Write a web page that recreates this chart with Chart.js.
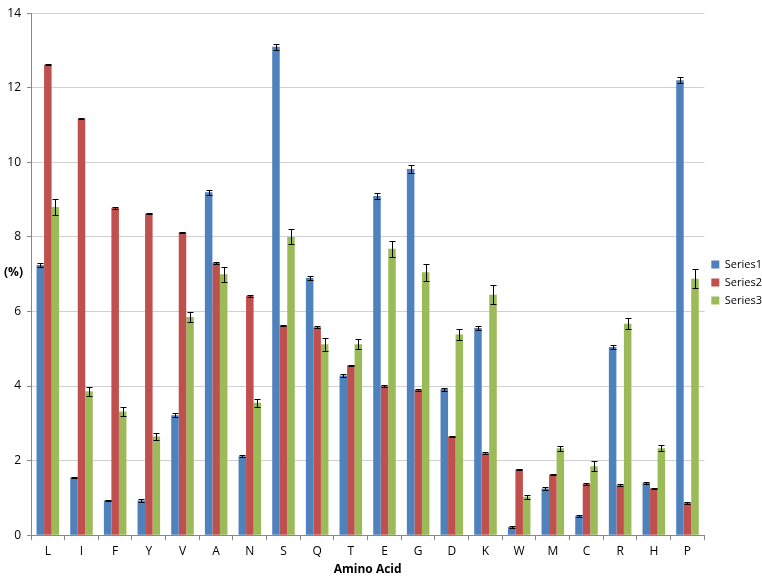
<!DOCTYPE html>
<html>
<head>
<meta charset="utf-8">
<script src="https://cdn.jsdelivr.net/npm/chart.js@4/dist/chart.umd.min.js"></script>
<style>
  html, body { margin: 0; padding: 0; background: #fff; }
  #wrap { width: 762px; height: 577px; position: relative; }
</style>
</head>
<body>
<div id="wrap"><canvas id="aaChart"></canvas></div>
<script>
// Amino acid composition (%)
const aminoAcids = ['L', 'I', 'F', 'Y', 'V', 'A', 'N', 'S', 'Q', 'T', 'E', 'G', 'D', 'K', 'W', 'M', 'C', 'R', 'H', 'P'];

const series1 = [7.25, 1.55, 0.93, 0.93, 3.22, 9.2, 2.12, 13.1, 6.9, 4.28, 9.1, 9.82, 3.92, 5.56, 0.22, 1.25, 0.52, 5.05, 1.4, 12.2];
const series2 = [12.62, 11.17, 8.78, 8.63, 8.12, 7.3, 6.42, 5.62, 5.58, 4.55, 4.0, 3.9, 2.65, 2.2, 1.76, 1.63, 1.37, 1.34, 1.25, 0.87];
const series3 = [8.8, 3.86, 3.32, 2.65, 5.85, 7.0, 3.55, 8.0, 5.12, 5.12, 7.68, 7.05, 5.38, 6.45, 1.03, 2.33, 1.85, 5.67, 2.33, 6.88];

// error bar half-widths
const err1 = [0.05, 0.02, 0.02, 0.03, 0.05, 0.07, 0.03, 0.08, 0.06, 0.05, 0.07, 0.1, 0.04, 0.05, 0.02, 0.03, 0.02, 0.05, 0.04, 0.08];
const err2 = [0.02, 0.02, 0.02, 0.02, 0.02, 0.02, 0.02, 0.02, 0.02, 0.02, 0.02, 0.02, 0.02, 0.02, 0.02, 0.02, 0.02, 0.02, 0.02, 0.02];
const err3 = [0.22, 0.12, 0.12, 0.1, 0.13, 0.2, 0.1, 0.2, 0.17, 0.13, 0.22, 0.22, 0.15, 0.25, 0.05, 0.07, 0.13, 0.15, 0.08, 0.25];

const yTicks = [0, 2, 4, 6, 8, 10, 12, 14];

// draws the error bars on top of each bar
const errorBarPlugin = {
    id: 'errorBars',
    afterDatasetsDraw(chart) {
        const ctx = chart.ctx;
        const yScale = chart.scales.y;
        ctx.save();
        ctx.strokeStyle = '#000';
        ctx.lineWidth = 1;
        chart.data.datasets.forEach((ds, i) => {
            const meta = chart.getDatasetMeta(i);
            meta.data.forEach((bar, j) => {
                const v = ds.data[j];
                const e = ds.errors[j];
                const x = Math.round(bar.x) + 0.5;
                const yTop = Math.round(yScale.getPixelForValue(v + e)) + 0.5;
                const yBot = Math.round(yScale.getPixelForValue(v - e)) + 0.5;
                ctx.beginPath();
                ctx.moveTo(x, yTop);
                ctx.lineTo(x, yBot);
                ctx.moveTo(x - 3, yTop);
                ctx.lineTo(x + 3, yTop);
                ctx.moveTo(x - 3, yBot);
                ctx.lineTo(x + 3, yBot);
                ctx.stroke();
            });
        });
        ctx.restore();
    }
};

// horizontal "(%)" label left of the axis
const yLabelPlugin = {
    id: 'yLabel',
    afterDraw(chart) {
        const ctx = chart.ctx;
        const area = chart.chartArea;
        ctx.save();
        ctx.fillStyle = '#000';
        ctx.font = 'bold 12px "Open Sans", sans-serif';
        ctx.textAlign = 'left';
        ctx.textBaseline = 'middle';
        ctx.fillText('(%)', 4, (area.top + area.bottom) / 2 - 2);
        ctx.restore();
    }
};

// legend sits tighter to the right edge (and a bit higher) than Chart.js would place it
const tightLegendPlugin = {
    id: 'tightLegend',
    afterInit(chart) {
        const legend = chart.legend;
        if (!legend) return;
        const origFit = legend.fit;
        legend.fit = function() {
            origFit.call(this);
            this.width -= 10;
        };
        const origDraw = legend.draw;
        legend.draw = function() {
            const ctx = this.ctx;
            ctx.save();
            ctx.translate(0, -7);
            origDraw.call(this);
            ctx.restore();
        };
    }
};

new Chart(document.getElementById('aaChart'), {
    type: 'bar',
    data: {
        labels: aminoAcids,
        datasets: [
            { label: 'Series1', data: series1, errors: err1, backgroundColor: '#4F81BD' },
            { label: 'Series2', data: series2, errors: err2, backgroundColor: '#C0504D' },
            { label: 'Series3', data: series3, errors: err3, backgroundColor: '#9BBB59' }
        ]
    },
    options: {
        responsive: true,
        maintainAspectRatio: false,
        animation: false,
        categoryPercentage: 0.67,
        barPercentage: 1.0,
        layout: { padding: { top: 2, left: 4, right: 0, bottom: 0 } },
        plugins: {
            legend: {
                position: 'right',
                labels: {
                    boxWidth: 8,
                    boxHeight: 8,
                    padding: 7,
                    color: '#000',
                    font: { size: 11, family: 'Open Sans' }
                }
            },
            tooltip: { enabled: false }
        },
        scales: {
            x: {
                grid: {
                    offset: true,
                    drawOnChartArea: false,
                    drawTicks: true,
                    tickLength: 5,
                    color: '#888'
                },
                border: { color: '#888' },
                ticks: { color: '#000', font: { size: 12, family: 'Open Sans' }, padding: 4 },
                title: {
                    display: true,
                    text: 'Amino Acid',
                    color: '#000',
                    font: { size: 12, weight: 'bold', family: 'Open Sans' },
                    padding: { top: 0, bottom: 0 }
                }
            },
            y: {
                min: 0,
                max: 14,
                afterBuildTicks: (axis) => { axis.ticks = yTicks.map(v => ({ value: v })); },
                grid: { color: '#d0d0d0', tickLength: 4, tickColor: '#888' },
                border: { color: '#888' },
                ticks: { color: '#000', font: { size: 12, family: 'Open Sans' }, padding: 6 },
                afterFit: (axis) => { axis.width = 27; }
            }
        }
    },
    plugins: [errorBarPlugin, yLabelPlugin, tightLegendPlugin]
});
</script>
</body>
</html>
